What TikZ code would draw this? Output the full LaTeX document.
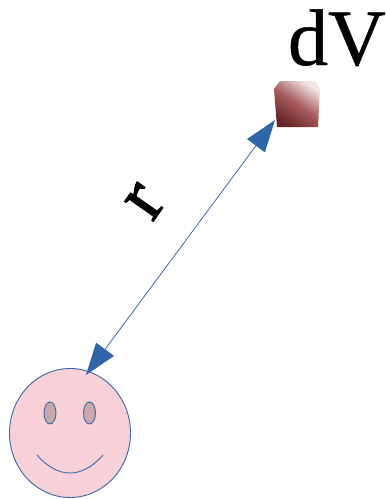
\documentclass[tikz,border=0pt]{standalone}
\usepackage{fontspec}
\setmainfont{Liberation Serif}
\newfontfamily\heavyserif[FakeBold=0.6]{Liberation Serif}
\newfontfamily\rserif[FakeBold=1.5]{Liberation Serif}
\usetikzlibrary{arrows.meta,shapes.geometric}
\definecolor{lineblue}{HTML}{3A68A8}
\definecolor{headblue}{HTML}{3065A8}
\definecolor{facepink}{HTML}{F7D0D8}
\definecolor{eyefill}{HTML}{C8A8AC}
\definecolor{cubedark}{HTML}{652628}
\definecolor{cubemid}{HTML}{A85A5C}
\definecolor{cubelight}{HTML}{F0E6E6}
\tikzset{
  faceline/.style={draw=lineblue,line width=0.9pt},
  eyeshape/.style={ellipse,faceline,fill=eyefill,minimum width=12pt,minimum height=22pt,inner sep=0pt},
  dvtext/.style={inner sep=0pt,font=\heavyserif\fontsize{80}{80}\selectfont,text=black},
  rtext/.style={inner sep=0pt,font=\rserif\fontsize{76}{76}\selectfont,text=black},
  link/.style={draw=lineblue,line width=0.8pt,{Triangle[length=32pt,width=22pt,fill=headblue,color=headblue]}-{Triangle[length=32pt,width=22pt,fill=headblue,color=headblue]}}
}
\begin{document}
\begin{tikzpicture}[x=1pt,y=-1pt]
\useasboundingbox (0,0) rectangle (386,499);
% cube
\shade[top color=cubelight,bottom color=cubedark,middle color=cubemid,shading angle=-35] (274,89) -- (280,81) -- (315,81) -- (320,89) -- (318,127) -- (277,127) -- cycle;
\coordinate (cubecorner) at (275,120);
% face
\node[ellipse,faceline,fill=facepink,minimum width=121pt,minimum height=129pt,inner sep=0pt] (face) at (70,433) {};
\node[eyeshape] (lefteye) at (50,413) {};
\node[eyeshape] (righteye) at (89.5,413) {};
\coordinate (smileL) at (37,455);
\coordinate (smileR) at (103,455);
\draw[lineblue,line width=0.9pt] (smileL) .. controls (58,479) and (82,479) .. (smileR);
% connector
\coordinate (faceTop) at (86,375);
\draw[link] (faceTop) -- (cubecorner);
% text
\node[dvtext,anchor=base east] (dv) at (386,65) {dV};
\node[rtext,rotate=55,anchor=center] (r) at (145,202) {r};
\end{tikzpicture}
\end{document}
